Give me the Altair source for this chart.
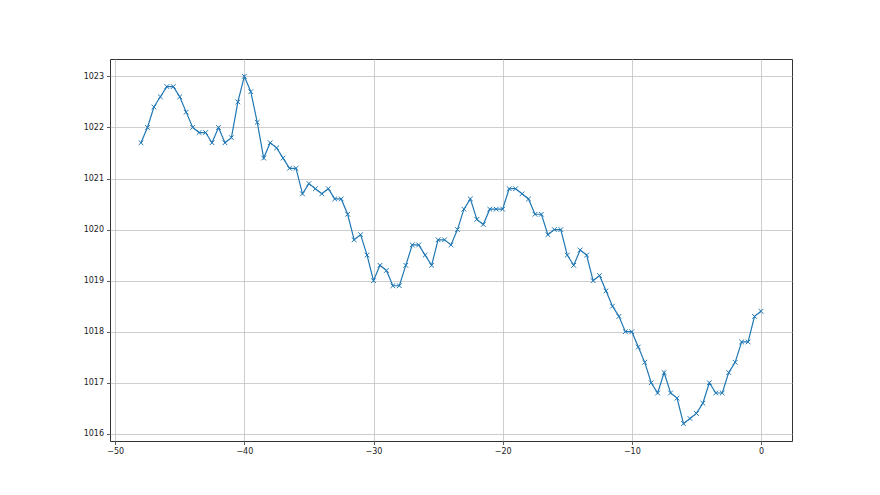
import altair as alt
import pandas as pd

x_vals = [-48 + 0.5 * i for i in range(97)]
pressure = [
    1021.7, 1022.0, 1022.4, 1022.6, 1022.8, 1022.8, 1022.6, 1022.3, 1022.0, 1021.9,
    1021.9, 1021.7, 1022.0, 1021.7, 1021.8, 1022.5, 1023.0, 1022.7, 1022.1, 1021.4,
    1021.7, 1021.6, 1021.4, 1021.2, 1021.2, 1020.7, 1020.9, 1020.8, 1020.7, 1020.8,
    1020.6, 1020.6, 1020.3, 1019.8, 1019.9, 1019.5, 1019.0, 1019.3, 1019.2, 1018.9,
    1018.9, 1019.3, 1019.7, 1019.7, 1019.5, 1019.3, 1019.8, 1019.8, 1019.7, 1020.0,
    1020.4, 1020.6, 1020.2, 1020.1, 1020.4, 1020.4, 1020.4, 1020.8, 1020.8, 1020.7,
    1020.6, 1020.3, 1020.3, 1019.9, 1020.0, 1020.0, 1019.5, 1019.3, 1019.6, 1019.5,
    1019.0, 1019.1, 1018.8, 1018.5, 1018.3, 1018.0, 1018.0, 1017.7, 1017.4, 1017.0,
    1016.8, 1017.2, 1016.8, 1016.7, 1016.2, 1016.3, 1016.4, 1016.6, 1017.0, 1016.8,
    1016.8, 1017.2, 1017.4, 1017.8, 1017.8, 1018.3, 1018.4,
]
x_ticks = [-50, -40, -30, -20, -10, 0]
y_ticks = [1016, 1017, 1018, 1019, 1020, 1021, 1022, 1023]

df = pd.DataFrame({"x": x_vals, "y": pressure})

color = "#1f77b4"
x_enc = alt.X("x:Q", scale=alt.Scale(domain=[-50.4, 2.4], nice=False, zero=False),
              axis=alt.Axis(values=x_ticks, title=None, format="d"))
y_enc = alt.Y("y:Q", scale=alt.Scale(domain=[1015.86, 1023.34], nice=False, zero=False),
              axis=alt.Axis(values=y_ticks, title=None, format="d"))

line = alt.Chart(df).mark_line(color=color, strokeWidth=1.2).encode(x=x_enc, y=y_enc)
pts = alt.Chart(df).mark_point(
    shape="M-1,-1L1,1M-1,1L1,-1", size=22, color=color, strokeWidth=1.0, filled=False, opacity=1
).encode(x="x:Q", y="y:Q")

chart = (line + pts).properties(
    width=682, height=382,
    autosize=alt.AutoSizeParams(type="none"),
    padding={"left": 102, "top": 51, "right": 80, "bottom": 46},
    background="white",
).configure_view(
    stroke="#333333", strokeWidth=1
).configure_axis(
    grid=True, gridColor="#c2c2c2", gridWidth=0.8, domain=False,
    tickColor="#333333", tickSize=3.5, tickWidth=0.8,
    labelColor="#222222", labelFont="DejaVu Sans", labelFontSize=8, labelPadding=3,
)

chart.save("out.html", embed_options={"renderer": "svg", "actions": False})
